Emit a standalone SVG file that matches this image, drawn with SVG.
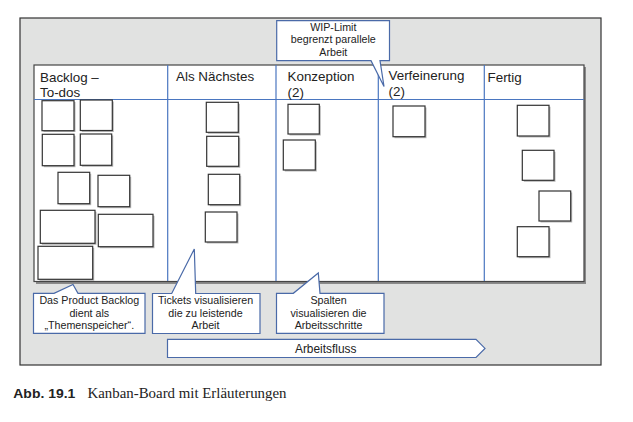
<svg xmlns="http://www.w3.org/2000/svg" width="633" height="422" viewBox="0 0 633 422">
<style>
.txt{font-family:"Liberation Sans",Arial,sans-serif;fill:#222}
.hd{font-size:13.4px}
.co{font-size:10.7px;text-anchor:middle}
.col{stroke:#4a76c0;stroke-width:1.2;fill:none}
.call{fill:#fff;stroke:#4a6aa8;stroke-width:1.2}
.card{fill:#fff;stroke:#333;stroke-width:1.2}
.sh{fill:#9a9a9a;opacity:0.7}
</style>
<rect width="633" height="422" fill="#fff"/>
<g id="frame">
<rect x="20" y="18" width="581" height="347" fill="#e1e2e1" stroke="#333" stroke-width="1.2"/>
<rect x="36" y="67" width="550" height="217" fill="#8a8a8a"/>
<rect x="34" y="65" width="550" height="216.5" fill="#fff" stroke="#444" stroke-width="1.2"/>
</g>
<g id="columns">
<line class="col" x1="34" y1="99.5" x2="584" y2="99.5"/>
<line class="col" x1="167.7" y1="65" x2="167.7" y2="281"/>
<line class="col" x1="276" y1="65" x2="276" y2="281"/>
<line class="col" x1="378.3" y1="65" x2="378.3" y2="281"/>
<line class="col" x1="484.3" y1="65" x2="484.3" y2="281"/>
</g>
<g id="headers" class="txt hd">
<text x="40" y="82">Backlog –</text>
<text x="40" y="97">To-dos</text>
<text x="176" y="81">Als Nächstes</text>
<text x="287.5" y="81">Konzeption</text>
<text x="287.5" y="97">(2)</text>
<text x="388.5" y="80">Verfeinerung</text>
<text x="388.5" y="96">(2)</text>
<text x="487.5" y="81.5">Fertig</text>
</g>
<g id="cards">
<g id="backlog-cards">
<rect class="sh" x="43.5" y="102" width="32" height="30"/><rect class="card" x="42" y="100.7" width="32" height="30"/>
<rect class="sh" x="81.8" y="101.5" width="32" height="30.5"/><rect class="card" x="80.3" y="100" width="32" height="30.5"/>
<rect class="sh" x="43.8" y="135.8" width="31.7" height="31.4"/><rect class="card" x="42.3" y="134.3" width="31.7" height="31.4"/>
<rect class="sh" x="81.8" y="135.5" width="31.4" height="31.3"/><rect class="card" x="80.3" y="134" width="31.4" height="31.3"/>
<rect class="sh" x="59.5" y="173.8" width="31.7" height="31.4"/><rect class="card" x="58" y="172.3" width="31.7" height="31.4"/>
<rect class="sh" x="99.5" y="176.8" width="31.7" height="31.4"/><rect class="card" x="98" y="175.3" width="31.7" height="31.4"/>
<rect class="sh" x="41.8" y="211.8" width="54.7" height="33"/><rect class="card" x="40.3" y="210.3" width="54.7" height="33"/>
<rect class="sh" x="99.8" y="215.8" width="54.7" height="32.4"/><rect class="card" x="98.3" y="214.3" width="54.7" height="32.4"/>
<rect class="sh" x="39.5" y="247.8" width="54.7" height="33"/><rect class="card" x="38" y="246.3" width="54.7" height="33"/>
</g>
<g id="next-cards">
<rect class="sh" x="207.8" y="103.8" width="32" height="30"/><rect class="card" x="206.3" y="102.3" width="32" height="30"/>
<rect class="sh" x="208.2" y="137.8" width="32" height="30"/><rect class="card" x="206.7" y="136.3" width="32" height="30"/>
<rect class="sh" x="209.8" y="175.8" width="31.4" height="30.4"/><rect class="card" x="208.3" y="174.3" width="31.4" height="30.4"/>
<rect class="sh" x="206.8" y="213.5" width="31.7" height="30"/><rect class="card" x="205.3" y="212" width="31.7" height="30"/>
</g>
<g id="konzeption-cards">
<rect class="sh" x="289.5" y="105.8" width="31.3" height="29.7"/><rect class="card" x="288" y="104.3" width="31.3" height="29.7"/>
<rect class="sh" x="284.8" y="141.5" width="32" height="30"/><rect class="card" x="283.3" y="140" width="32" height="30"/>
</g>
<g id="verfeinerung-cards">
<rect class="sh" x="394.5" y="107.5" width="32" height="30.7"/><rect class="card" x="393" y="106" width="32" height="30.7"/>
</g>
<g id="fertig-cards">
<rect class="sh" x="518.8" y="106.8" width="31.7" height="30.7"/><rect class="card" x="517.3" y="105.3" width="31.7" height="30.7"/>
<rect class="sh" x="523.8" y="151.8" width="31.7" height="30"/><rect class="card" x="522.3" y="150.3" width="31.7" height="30"/>
<rect class="sh" x="540.5" y="192.5" width="31.7" height="30"/><rect class="card" x="539" y="191" width="31.7" height="30"/>
<rect class="sh" x="518.8" y="228.2" width="31.7" height="30"/><rect class="card" x="517.3" y="226.7" width="31.7" height="30"/>
</g>
</g>
<g id="callout-wip">
<path class="call" d="M276.7,20.7 H389.5 V60.7 H380 L384,86.5 L371,60.7 H276.7 Z"/>
<g class="txt co"><text x="333.3" y="30.7">WIP-Limit</text><text x="333.3" y="43.3">begrenzt parallele</text><text x="333.3" y="55.7">Arbeit</text></g>
</g>
<g id="callout-backlog">
<path class="call" d="M33.5,293.3 H54 L73,284.5 L78,293.3 H145 V333.3 H33.5 Z"/>
<g class="txt co"><text x="89.3" y="304.3">Das Product Backlog</text><text x="89.3" y="316.7">dient als</text><text x="89.3" y="329.2">„Themenspeicher“.</text></g>
</g>
<g id="callout-tickets">
<path class="call" d="M152.5,293.5 H171.7 L194.3,249 L195.7,293.5 H260 V333.5 H152.5 Z"/>
<g class="txt co"><text x="205.5" y="304.3">Tickets visualisieren</text><text x="205.5" y="316.7">die zu leistende</text><text x="205.5" y="329.2">Arbeit</text></g>
</g>
<g id="callout-spalten">
<path class="call" d="M276.5,293.3 H293.3 L318.3,273 L320,293.3 H384 V333.3 H276.5 Z"/>
<g class="txt co"><text x="328.5" y="304.3">Spalten</text><text x="328.5" y="316.7">visualisieren die</text><text x="328.5" y="329.2">Arbeitsschritte</text></g>
</g>
<g id="arbeitsfluss">
<path class="call" d="M167.5,339.3 H476 L485,348.4 L476,357.5 H167.5 Z"/>
<text class="txt" x="325.7" y="352.8" font-size="11.9" text-anchor="middle">Arbeitsfluss</text>
</g>
<g id="caption">
<text x="13.3" y="397.5" font-family="Liberation Sans,Arial,sans-serif" font-weight="bold" font-size="12.5" fill="#222" textLength="62" lengthAdjust="spacingAndGlyphs">Abb. 19.1</text>
<text x="87.5" y="397.5" font-family="Liberation Serif,Times New Roman,serif" font-size="14.5" fill="#222" textLength="199" lengthAdjust="spacingAndGlyphs">Kanban-Board mit Erläuterungen</text>
</g>
</svg>
